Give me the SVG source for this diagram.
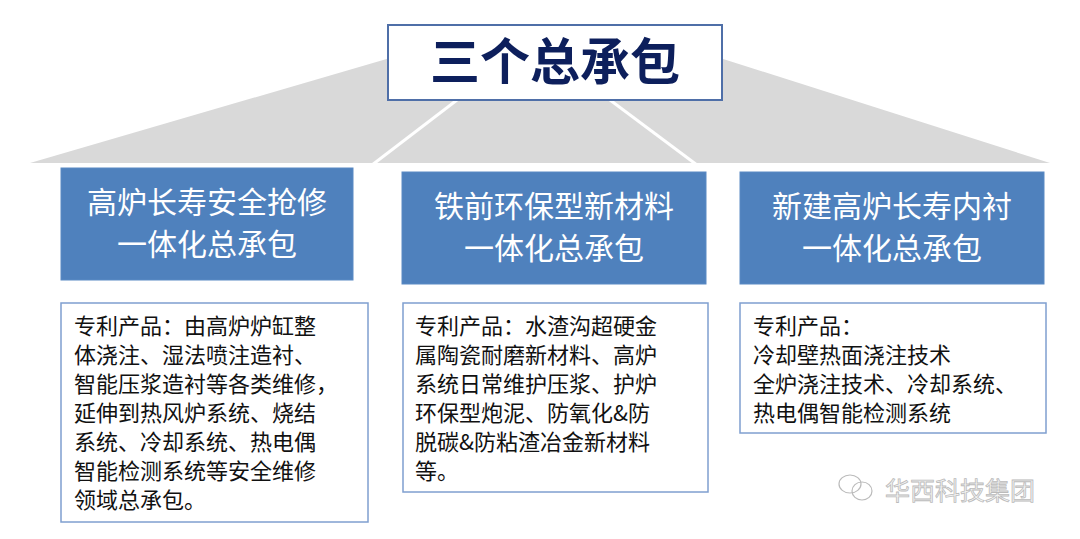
<svg xmlns="http://www.w3.org/2000/svg" width="1080" height="539" viewBox="0 0 1080 539">
<style>
.hd{fill:#4f81bd;stroke:#5b8ac4;stroke-width:1}
.ht{font-family:"Noto Sans CJK SC",sans-serif;font-size:30px;fill:#fff;text-anchor:middle}
.tb{fill:#fff;stroke:#7f9fcf;stroke-width:1.5}
.tt{font-family:"Noto Sans CJK SC",sans-serif;font-size:22px;fill:#111}
</style>
<rect width="1080" height="539" fill="#fff"/>
<g id="connectors">
<polygon points="390,58 720,58 1050,163 30,163" fill="#d9d9d9"/>
<line x1="457" y1="100" x2="372" y2="165" stroke="#fff" stroke-width="3"/>
<line x1="610" y1="100" x2="697" y2="165" stroke="#fff" stroke-width="3"/>
</g>
<g id="title">
<rect x="388" y="25" width="334" height="75" fill="#fff" stroke="#4f6fa8" stroke-width="2"/>
<text x="555" y="80" font-family="Noto Sans CJK SC,sans-serif" font-size="50" font-weight="bold" fill="#0d1f5c" text-anchor="middle">三个总承包</text>
</g>
<g id="head1"><rect class="hd" x="61" y="168" width="292" height="112"/>
<text class="ht" x="207" y="213">高炉长寿安全抢修</text><text class="ht" x="207" y="255">一体化总承包</text></g>
<g id="head2"><rect class="hd" x="402" y="172" width="304" height="112"/>
<text class="ht" x="554" y="217">铁前环保型新材料</text><text class="ht" x="554" y="259">一体化总承包</text></g>
<g id="head3"><rect class="hd" x="740" y="172" width="304" height="112"/>
<text class="ht" x="892" y="217">新建高炉长寿内衬</text><text class="ht" x="892" y="259">一体化总承包</text></g>
<g id="box1"><rect class="tb" x="61" y="303" width="307" height="219"/>
<text class="tt" x="74" y="334">专利产品：由高炉炉缸整</text>
<text class="tt" x="74" y="363">体浇注、湿法喷注造衬、</text>
<text class="tt" x="74" y="392">智能压浆造衬等各类维修，</text>
<text class="tt" x="74" y="421">延伸到热风炉系统、烧结</text>
<text class="tt" x="74" y="450">系统、冷却系统、热电偶</text>
<text class="tt" x="74" y="479">智能检测系统等安全维修</text>
<text class="tt" x="74" y="508">领域总承包。</text></g>
<g id="box2"><rect class="tb" x="403" y="303" width="305" height="189"/>
<text class="tt" x="415" y="334">专利产品：水渣沟超硬金</text>
<text class="tt" x="415" y="363">属陶瓷耐磨新材料、高炉</text>
<text class="tt" x="415" y="392">系统日常维护压浆、护炉</text>
<text class="tt" x="415" y="421">环保型炮泥、防氧化&amp;防</text>
<text class="tt" x="415" y="450">脱碳&amp;防粘渣冶金新材料</text>
<text class="tt" x="415" y="479">等。</text></g>
<g id="box3"><rect class="tb" x="740" y="303" width="306" height="130"/>
<text class="tt" x="753" y="334">专利产品：</text>
<text class="tt" x="753" y="363">冷却壁热面浇注技术</text>
<text class="tt" x="753" y="392">全炉浇注技术、冷却系统、</text>
<text class="tt" x="753" y="421">热电偶智能检测系统</text></g>
<g id="watermark" fill="none" stroke="#bbb" stroke-width="1.2">
<ellipse cx="850" cy="484" rx="11" ry="9"/><ellipse cx="862" cy="491" rx="10" ry="9"/>
<text x="885" y="500" font-family="Noto Sans CJK SC,sans-serif" font-size="25" fill="#f4f4f4" stroke="#bbb" stroke-width="0.8">华西科技集团</text>
</g>
</svg>
